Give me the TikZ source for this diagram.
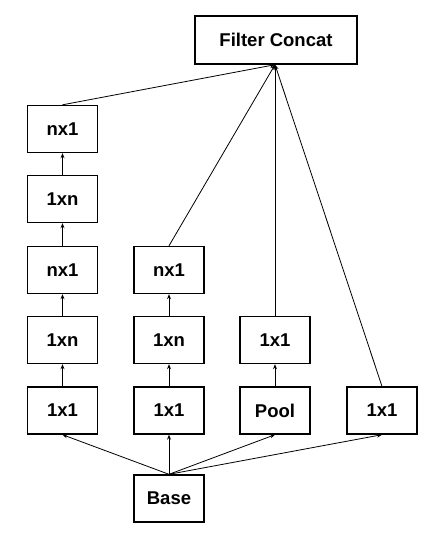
\documentclass[tikz,border=0pt]{standalone}
\usepackage{fontspec}
\setmainfont{Liberation Sans}
\usetikzlibrary{arrows.meta}
\begin{document}
\begin{tikzpicture}[x=1pt,y=-1pt,
  box/.style={draw, line width=1.4pt, minimum width=70pt, minimum height=47pt, inner sep=0pt, font=\fontsize{18.5}{20}\selectfont\bfseries},
  conn/.style={line width=0.8pt, -{Stealth[length=5pt,width=4pt]}}]
\useasboundingbox (0,0) rectangle (444,542);
\node[box, minimum width=162pt, minimum height=48pt] (fc) at (276,40) {Filter Concat};
% column 1
\node[box] (a1) at (62.5,129) {nx1};
\node[box] (a2) at (62.5,199) {1xn};
\node[box] (a3) at (62.5,270) {nx1};
\node[box] (a4) at (62.5,340) {1xn};
\node[box] (a5) at (62.5,410.5) {1x1};
% column 2
\node[box] (b3) at (169,270) {nx1};
\node[box] (b4) at (169,340) {1xn};
\node[box] (b5) at (169,410.5) {1x1};
% column 3
\node[box] (c4) at (275,340) {1x1};
\node[box] (c5) at (275,410.5) {Pool};
% column 4
\node[box] (d5) at (382,410.5) {1x1};
% base
\node[box] (base) at (169,498.5) {Base};
% vertical chains
\draw[conn] (a5) -- (a4);
\draw[conn] (a4) -- (a3);
\draw[conn] (a3) -- (a2);
\draw[conn] (a2) -- (a1);
\draw[conn] (b5) -- (b4);
\draw[conn] (b4) -- (b3);
\draw[conn] (c5) -- (c4);
% base fan-out
\draw[conn] (base.north) -- (a5.south);
\draw[conn] (base.north) -- (b5.south);
\draw[conn] (base.north) -- (c5.south);
\draw[conn] (base.north) -- (d5.south);
% to filter concat
\coordinate (fcin) at ([xshift=-1pt]fc.south);
\draw[conn] (a1.north) -- (fcin);
\draw[conn] (b3.north) -- (fcin);
\draw[conn] (c4.north) -- (fcin);
\draw[conn] (d5.north) -- (fcin);
\end{tikzpicture}
\end{document}
